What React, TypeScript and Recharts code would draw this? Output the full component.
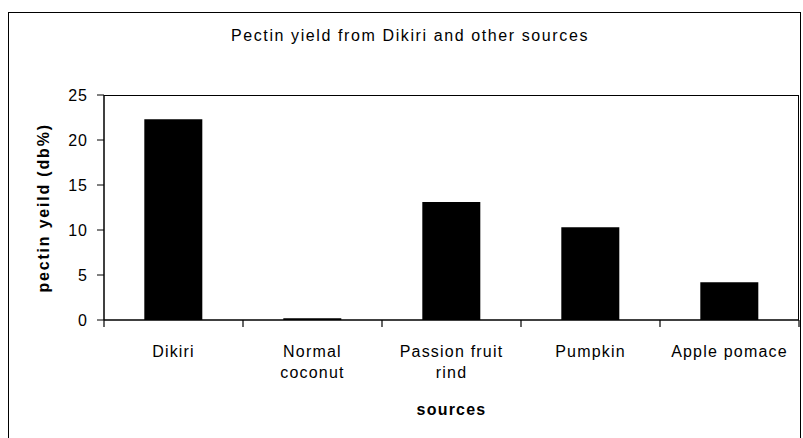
import { BarChart, Bar, XAxis, YAxis } from 'recharts';

const categories = ['Dikiri', 'Normal coconut', 'Passion fruit rind', 'Pumpkin', 'Apple pomace'];
const tickLines = [['Dikiri'], ['Normal', 'coconut'], ['Passion fruit', 'rind'], ['Pumpkin'], ['Apple pomace']];
const pectinYield = [22.3, 0.2, 13.1, 10.3, 4.2];
const yTicks = [0, 5, 10, 15, 20, 25];

const data = categories.map((name, i) => ({ name, value: pectinYield[i] }));

const FONT = 'Arial, "Liberation Sans", sans-serif';

const SourceTick = (props: any) => {
    const { x, y, payload, index } = props;
    const half = payload.offset || 0;
    const lines = tickLines[index] || [payload.value];
    return (
        <g>
            <line x1={x - half} x2={x - half} y1={y - 8} y2={y - 1} stroke="#000" strokeWidth={1.2} />
            {index === categories.length - 1 && (
                <line x1={x + half} x2={x + half} y1={y - 8} y2={y - 1} stroke="#000" strokeWidth={1.2} />
            )}
            {lines.map((l: string, k: number) => (
                <text key={k} x={x} y={y + 29 + k * 21} textAnchor="middle" fontSize={16} letterSpacing={1.2}
                    fill="#000" fontFamily={FONT}>
                    {l}
                </text>
            ))}
        </g>
    );
};

export default function App() {
    return (
        <div style={{ position: 'absolute', left: 0, top: 0, width: 803, height: 438, background: '#fff', overflow: 'hidden' }}>
            <div style={{ position: 'absolute', left: 8, top: 12, width: 793, height: 440, border: '1.5px solid #000', boxSizing: 'border-box' }} />
            <div style={{ position: 'absolute', left: 0, width: 820, top: 27, textAlign: 'center', fontFamily: FONT, fontSize: 16, letterSpacing: 1.6, color: '#000' }}>
                Pectin yield from Dikiri and other sources
            </div>
            {/* plot frame (top and right edges) */}
            <div style={{ position: 'absolute', left: 104, top: 95, width: 695, height: 225, borderTop: '1.5px solid #000', borderRight: '1.5px solid #000', boxSizing: 'border-box' }} />
            <div style={{ position: 'absolute', left: 0, top: 0 }}>
                <BarChart width={803} height={438} data={data} barCategoryGap="29%"
                    margin={{ top: 95, right: 4, left: 44, bottom: 88 }}>
                    <XAxis dataKey="name" interval={0} tickLine={false} axisLine={{ stroke: '#000', strokeWidth: 1.5 }}
                        tick={<SourceTick />} height={30}
                        label={{ value: 'sources', position: 'insideBottom', offset: -65, fontSize: 16, letterSpacing: 1.2, fontWeight: 'bold', fill: '#000', fontFamily: FONT }} />
                    <YAxis domain={[0, 25]} ticks={yTicks} interval={0} width={60} tickSize={7} tickMargin={9}
                        axisLine={{ stroke: '#000', strokeWidth: 1.5 }} tickLine={{ stroke: '#000' }}
                        tick={{ fontSize: 16, letterSpacing: 1, fill: '#000', fontFamily: FONT }}
                        label={{ value: 'pectin yeild (db%)', angle: -90, position: 'insideLeft', offset: -1, dy: 85, fontSize: 16, letterSpacing: 1.8, fontWeight: 'bold', fill: '#000', fontFamily: FONT }} />
                    <Bar dataKey="value" fill="#000" isAnimationActive={false} />
                </BarChart>
            </div>
        </div>
    );
}
